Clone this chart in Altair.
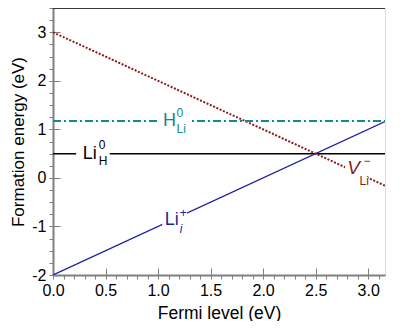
import altair as alt
import pandas as pd

# ---------------- data ----------------
X_DOMAIN = [0.0, 3.16]
Y_DOMAIN = [-2.0, 3.5]

fermi_ends = [0.0, 3.16]
li_i_energy = [-2.0, 1.16]      # Li_i^+
v_li_energy = [3.0, -0.16]      # V_Li^-
li_h_energy = [0.5, 0.5]        # Li_H^0
h_li_energy = [1.17, 1.17]      # H_Li^0

x_ticks_minor = [round(0.1 * i, 1) for i in range(32)]
x_ticks_major = [0.0, 0.5, 1.0, 1.5, 2.0, 2.5, 3.0]
y_ticks_minor = [round(-2 + 0.25 * i, 2) for i in range(23)]
y_ticks_major = [-2, -1, 0, 1, 2, 3]

label_main = ["Li", "H", "Li", "V"]
label_sup = ["0", "0", "+", "\u2212"]
label_sub = ["H", "Li", "i", "Li"]
label_x = [0.35, 1.11, 1.13, 2.86]
label_y = [0.5, 1.17, -0.87, 0.2]

gap_x1 = [0.22, 1.0, 1.04, 2.78]
gap_x2 = [0.54, 1.305, 1.276, 3.0]
gap_y1 = [0.4, 1.07, -1.0, -0.05]
gap_y2 = [0.6, 1.27, -0.68, 0.28]

# ---------------- styles ----------------
FONT = "Liberation Sans"
BLUE = "#1f1fa3"
RED = "#8b1a1a"
TEAL = "#148a8a"
GRAY = "#808080"
W, H = 332, 267

label_colors = ["black", TEAL, BLUE, RED]
main_style = [dict(size=18), dict(size=18), dict(size=18), dict(size=19, fontStyle="italic")]
sup_off = [(9, -9), (7, -8), (8, -7), (10, -7)]
sub_off = [(9, 7), (7, 8), (8, 9), (6, 13)]
sub_style = [dict(), dict(), dict(fontStyle="italic"), dict()]

xs = alt.Scale(domain=X_DOMAIN, nice=False, zero=False)
ys = alt.Scale(domain=Y_DOMAIN, nice=False, zero=False)

x_axis_main = alt.Axis(
    values=x_ticks_minor, tickSize=4, tickColor=GRAY, tickWidth=1,
    domainColor=GRAY, domainWidth=2, labelFontSize=16, labelFont=FONT,
    labelColor="black", labelPadding=3, labelOverlap=False, labelFlush=False,
    labelExpr="abs(datum.value*2 - round(datum.value*2)) < 0.001 ? format(datum.value, '.1f') : ''",
    title="Fermi level (eV)", titleFont=FONT, titleFontSize=17.5,
    titleFontWeight="normal", titleColor="black", titlePadding=6, grid=False,
)
y_axis_main = alt.Axis(
    values=y_ticks_minor, tickSize=4, tickColor=GRAY, tickWidth=1,
    domainColor=GRAY, domainWidth=2, labelFontSize=16, labelFont=FONT,
    labelColor="black", labelPadding=3, labelOverlap=False, labelFlush=False,
    labelExpr="abs(datum.value - round(datum.value)) < 0.001 ? ('' + round(datum.value)) : ''",
    title="Formation energy (eV)", titleFont=FONT, titleFontSize=17,
    titleFontWeight="normal", titleColor="black", titlePadding=4, grid=False,
)
x_axis_in = alt.Axis(orient="top", offset=-H, values=x_ticks_major, tickSize=7,
                     tickColor=GRAY, tickWidth=1, labels=False, domain=False,
                     title=None, grid=False)
y_axis_in = alt.Axis(orient="right", offset=-W, values=y_ticks_major, tickSize=7,
                     tickColor=GRAY, tickWidth=1, labels=False, domain=False,
                     title=None, grid=False)


def line_df(ys_vals):
    return pd.DataFrame({"x": fermi_ends, "y": ys_vals})


def line_layer(vals, color, width, dash=None, xaxis=None, yaxis=None):
    kw = dict(color=color, strokeWidth=width, clip=True)
    if dash:
        kw["strokeDash"] = dash
    return alt.Chart(line_df(vals)).mark_line(**kw).encode(
        x=alt.X("x:Q", scale=xs, axis=xaxis),
        y=alt.Y("y:Q", scale=ys, axis=yaxis),
    )


l_h = line_layer(li_h_energy, "black", 1.5, xaxis=x_axis_main, yaxis=y_axis_main)
l_i = line_layer(li_i_energy, BLUE, 1.3, xaxis=x_axis_in, yaxis=y_axis_in)
l_v = line_layer(v_li_energy, RED, 2, dash=[2, 1.6])
l_hli = line_layer(h_li_energy, TEAL, 2, dash=[8, 3, 2, 3])

gaps = alt.Chart(pd.DataFrame({"x1": gap_x1, "x2": gap_x2, "y1": gap_y1, "y2": gap_y2})).mark_rect(
    color="white", strokeWidth=0).encode(
    x=alt.X("x1:Q", scale=xs, axis=None), x2="x2:Q",
    y=alt.Y("y1:Q", scale=ys, axis=None), y2="y2:Q",
)

top_rule = alt.Chart(pd.DataFrame({"y": [Y_DOMAIN[1]]})).mark_rule(
    color="black", strokeWidth=1.5).encode(y=alt.Y("y:Q", scale=ys, axis=None))

texts = []
for i in range(4):
    df = pd.DataFrame({"x": [label_x[i]], "y": [label_y[i]],
                       "m": [label_main[i]], "p": [label_sup[i]], "b": [label_sub[i]]})
    base = alt.Chart(df)
    enc = dict(x=alt.X("x:Q", scale=xs, axis=None), y=alt.Y("y:Q", scale=ys, axis=None))
    texts.append(base.mark_text(font=FONT, color=label_colors[i], align="center",
                                baseline="middle", **main_style[i]).encode(text="m:N", **enc))
    texts.append(base.mark_text(font=FONT, color=label_colors[i], align="left",
                                baseline="middle", size=12, dx=sup_off[i][0], dy=sup_off[i][1]
                                ).encode(text="p:N", **enc))
    texts.append(base.mark_text(font=FONT, color=label_colors[i], align="left",
                                baseline="middle", size=12, dx=sub_off[i][0], dy=sub_off[i][1],
                                **sub_style[i]).encode(text="b:N", **enc))

chart = alt.layer(l_h, l_i, l_v, l_hli, gaps, top_rule, *texts).resolve_axis(
    x="independent", y="independent"
).properties(
    width=W, height=H,
    autosize=alt.AutoSizeParams(type="none"),
    padding={"left": 45, "top": 0, "right": 14, "bottom": 46},
).configure_view(stroke=GRAY, strokeWidth=1).configure(background="white")

chart.save("out.html", embed_options={"renderer": "svg", "actions": False})
